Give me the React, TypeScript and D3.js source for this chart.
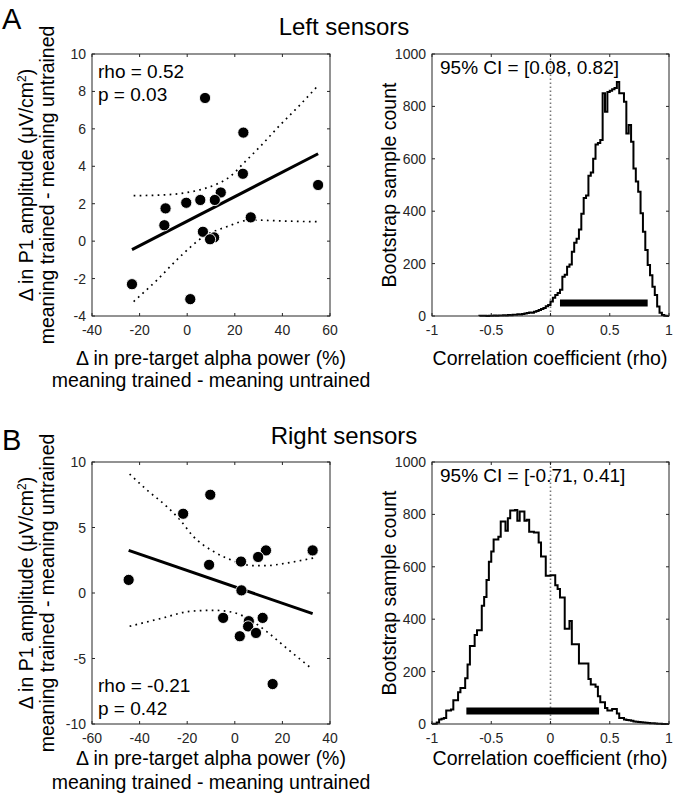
import React from 'react';
import * as d3 from 'd3';

// ---------- DATA ----------
// Panel A (left sensors) scatter
const leftAlpha = [7.5, 23.6, 23.4, 55, 14.1, 11.6, 5.5, -0.4, -9.1, -9.6, 26.7, 6.6, 11.3, 9.6, -23.2, 1.3];
const leftP1 = [7.65, 5.8, 3.6, 3.0, 2.6, 2.2, 2.2, 2.05, 1.75, 0.85, 1.27, 0.5, 0.2, 0.1, -2.3, -3.1];
const leftFit = [[-23.2, -0.45], [55, 4.67]];
const leftUpper = [[-22.5, 2.43], [-10, 2.47], [0, 2.6], [7, 2.8], [12.5, 3.05], [18, 3.45], [23.6, 4.15], [30.6, 5.05], [39, 6.2], [47.4, 7.28], [54.5, 8.25]];
const leftLower = [[-22.5, -3.23], [-12.7, -2.08], [-3, -0.83], [6.9, 0.24], [16.6, 0.77], [26.7, 1.13], [35, 1.1], [45, 1.06], [55, 1.04]];

// Panel B (right sensors) scatter
const rightAlpha = [-10.3, -21.7, 13.1, 32.7, 9.8, 2.6, -10.8, -44.6, 2.8, -4.9, 11.7, 5.9, 5.6, 8.9, 2.1, 15.9];
const rightP1 = [7.5, 6.05, 3.25, 3.25, 2.75, 2.4, 2.15, 1.0, 0.2, -1.9, -1.9, -2.15, -2.55, -3.05, -3.3, -6.95];
const rightFit = [[-44.6, 3.26], [32.7, -1.58]];
const rightUpper = [[-44.2, 9.08], [-37.1, 7.89], [-28.7, 6.62], [-23.1, 5.6], [-17.5, 4.33], [-9.1, 3.18], [-3.5, 2.67], [2.1, 2.29], [7.7, 2.09], [13.3, 2.09], [21.8, 2.29], [33, 2.67]];
const rightLower = [[-44.2, -2.54], [-30.1, -1.9], [-18.9, -1.4], [-9.1, -1.32], [-0.7, -1.48], [6.3, -2.04], [13.3, -2.93], [21.7, -4.2], [31.6, -5.67]];

// Bootstrap histograms (bin width 0.02)
const binWidth = 0.02;
const leftHistStart = -0.6;
const leftCounts = [
  1, 1, 1, 0, 1, 1, 2, 1, 2, 2,
  3, 2, 4, 3, 5, 5, 7, 6, 8, 10,
  11, 13, 12, 16, 19, 23, 27, 31, 37, 42,
  55, 70, 80, 88, 100, 150, 157, 188, 197, 245,
  280, 295, 330, 390, 450, 460, 535, 548, 600, 655,
  660, 672, 850, 780, 855, 860, 865, 870, 893, 850,
  850, 818, 697, 729, 665, 563, 513, 474, 392, 322,
  252, 195, 156, 112, 80, 36, 12, 4, 1, 0,
];
const leftCI = [0.08, 0.82];

const rightHistStart = -1.0;
const rightCounts = [
  1, 1, 6, 17, 20, 23, 52, 52, 55, 91,
  91, 121, 137, 137, 175, 227, 298, 298, 340, 358,
  358, 451, 485, 550, 619, 658, 704, 704, 715, 773,
  773, 738, 785, 815, 815, 817, 776, 811, 811, 776,
  780, 734, 734, 731, 731, 693, 639, 639, 566, 566,
  568, 568, 530, 515, 483, 483, 364, 364, 393, 304,
  304, 304, 231, 231, 231, 231, 172, 151, 151, 142,
  106, 83, 83, 61, 52, 52, 57, 57, 40, 23,
  23, 17, 15, 14, 12, 10, 9, 8, 7, 6,
  5, 4, 3, 3, 2, 1, 1, 0, 0, 0,
];
const rightCI = [-0.71, 0.41];

// Ticks
const leftXTicks = [-40, -20, 0, 20, 40, 60];
const leftYTicks = [-4, -2, 0, 2, 4, 6, 8, 10];
const rightXTicks = [-60, -40, -20, 0, 20, 40];
const rightYTicks = [-10, -5, 0, 5, 10];
const histXTicks = [-1, -0.5, 0, 0.5, 1];
const histYTicks = [0, 200, 400, 600, 800, 1000];

const FONT = '"Liberation Sans", Arial, Helvetica, sans-serif';
const AX = '#262626';

function fmtTick(v: number) {
  return String(v);
}

function Box({ x, y, xTicks, yTicks }: any) {
  const [x0, x1] = x.range();
  const [y1, y0] = y.range();
  const tl = 3;
  return (
    <g>
      <rect x={x0} y={y0} width={x1 - x0} height={y1 - y0} fill="none" stroke={AX} strokeWidth={1} />
      {xTicks.map((t: number) => (
        <g key={'x' + t}>
          <line x1={x(t)} x2={x(t)} y1={y1} y2={y1 - tl} stroke={AX} />
          <line x1={x(t)} x2={x(t)} y1={y0} y2={y0 + tl} stroke={AX} />
          <text x={x(t)} y={y1 + 19} textAnchor="middle" fontSize={14} fill={AX} fontFamily={FONT}>{fmtTick(t)}</text>
        </g>
      ))}
      {yTicks.map((t: number) => (
        <g key={'y' + t}>
          <line x1={x0} x2={x0 + tl} y1={y(t)} y2={y(t)} stroke={AX} />
          <line x1={x1} x2={x1 - tl} y1={y(t)} y2={y(t)} stroke={AX} />
          <text x={x0 - 6} y={y(t) + 5} textAnchor="end" fontSize={14} fill={AX} fontFamily={FONT}>{fmtTick(t)}</text>
        </g>
      ))}
    </g>
  );
}

function Scatter({ top, xDomain, yDomain, xTicks, yTicks, xs, ys, fit, upper, lower, stats, statsAtBottom, labY }: any) {
  const x = d3.scaleLinear().domain(xDomain).range([92, 330]);
  const y = d3.scaleLinear().domain(yDomain).range([top + 262, top]);
  const line = d3.line<number[]>().x(d => x(d[0])).y(d => y(d[1]));
  const curve = d3.line<number[]>().x(d => x(d[0])).y(d => y(d[1])).curve(d3.curveMonotoneX);
  const sy = statsAtBottom ? top + 230 : top + 24;
  return (
    <g>
      <path d={curve(upper) || ''} fill="none" stroke="#000" strokeWidth={1.7} strokeDasharray="1.7 4.3" />
      <path d={curve(lower) || ''} fill="none" stroke="#000" strokeWidth={1.7} strokeDasharray="1.7 4.3" />
      <path d={line(fit) || ''} fill="none" stroke="#000" strokeWidth={3} />
      {xs.map((v: number, i: number) => (
        <circle key={i} cx={x(v)} cy={y(ys[i])} r={5.6} fill="#000" stroke="#fff" strokeWidth={0.9} />
      ))}
      <Box x={x} y={y} xTicks={xTicks} yTicks={yTicks} />
      <text x={98} y={sy} fontSize={19} fontFamily={FONT} fill="#000">{stats[0]}</text>
      <text x={98} y={sy + 23} fontSize={19} fontFamily={FONT} fill="#000">{stats[1]}</text>
      <text transform={`translate(33,${top + 131}) rotate(-90)`} textAnchor="middle" fontSize={19.5} fontFamily={FONT} fill="#000">
        Δ in P1 amplitude (μV/cm<tspan dy={-7} fontSize={12}>2</tspan><tspan dy={7}>)</tspan>
      </text>
      <text transform={`translate(54,${top + 131}) rotate(-90)`} textAnchor="middle" fontSize={19.5} fontFamily={FONT} fill="#000">
        meaning trained - meaning untrained
      </text>
      <text x={211} y={labY[0]} textAnchor="middle" fontSize={19.5} fontFamily={FONT} fill="#000">Δ in pre-target alpha power (%)</text>
      <text x={211} y={labY[1]} textAnchor="middle" fontSize={19.5} fontFamily={FONT} fill="#000">meaning trained - meaning untrained</text>
    </g>
  );
}

function Hist({ top, start, counts, ci, label, labY }: any) {
  const x = d3.scaleLinear().domain([-1, 1]).range([432, 669]);
  const y = d3.scaleLinear().domain([0, 1000]).range([top + 262, top]);
  const path = d3.path();
  path.moveTo(x(start), y(0));
  counts.forEach((c: number, i: number) => {
    path.lineTo(x(start + i * binWidth), y(c));
    path.lineTo(x(start + (i + 1) * binWidth), y(c));
  });
  path.lineTo(x(start + counts.length * binWidth), y(0));
  return (
    <g>
      <line x1={x(0)} x2={x(0)} y1={y(0)} y2={y(1000)} stroke="#777" strokeWidth={1.6} strokeDasharray="1.6 2.4" />
      <path d={path.toString()} fill="none" stroke="#000" strokeWidth={2} />
      <line x1={x(ci[0])} x2={x(ci[1])} y1={y(50)} y2={y(50)} stroke="#000" strokeWidth={7} />
      <Box x={x} y={y} xTicks={histXTicks} yTicks={histYTicks} />
      <text x={440} y={top + 19.5} fontSize={19} fontFamily={FONT} fill="#000">{label}</text>
      <text transform={`translate(396,${top + 131}) rotate(-90)`} textAnchor="middle" fontSize={19.5} fontFamily={FONT} fill="#000">Bootstrap sample count</text>
      <text x={550} y={labY} textAnchor="middle" fontSize={19.5} fontFamily={FONT} fill="#000">Correlation coefficient (rho)</text>
    </g>
  );
}

export default function App() {
  return (
    <svg width={675} height={809} style={{ position: 'absolute', left: 0, top: 0, background: '#fff' }}>
      <rect width={675} height={809} fill="#fff" />
      <text x={2} y={29} fontSize={29} fontFamily={FONT} fill="#000">A</text>
      <text x={344} y={35} textAnchor="middle" fontSize={24} fontFamily={FONT} fill="#000">Left sensors</text>
      <Scatter top={54} xDomain={[-40, 60]} yDomain={[-4, 10]} xTicks={leftXTicks} yTicks={leftYTicks}
        xs={leftAlpha} ys={leftP1} fit={leftFit} upper={leftUpper} lower={leftLower}
        stats={['rho = 0.52', 'p = 0.03']} statsAtBottom={false} labY={[365, 387]} />
      <Hist top={54} start={leftHistStart} counts={leftCounts} ci={leftCI} label="95% CI = [0.08, 0.82]" labY={365} />

      <text x={2} y={450} fontSize={29} fontFamily={FONT} fill="#000">B</text>
      <text x={344} y={444} textAnchor="middle" fontSize={24} fontFamily={FONT} fill="#000">Right sensors</text>
      <Scatter top={462} xDomain={[-60, 40]} yDomain={[-10, 10]} xTicks={rightXTicks} yTicks={rightYTicks}
        xs={rightAlpha} ys={rightP1} fit={rightFit} upper={rightUpper} lower={rightLower}
        stats={['rho = -0.21', 'p = 0.42']} statsAtBottom={true} labY={[765, 789]} />
      <Hist top={462} start={rightHistStart} counts={rightCounts} ci={rightCI} label="95% CI = [-0.71, 0.41]" labY={765} />
    </svg>
  );
}
